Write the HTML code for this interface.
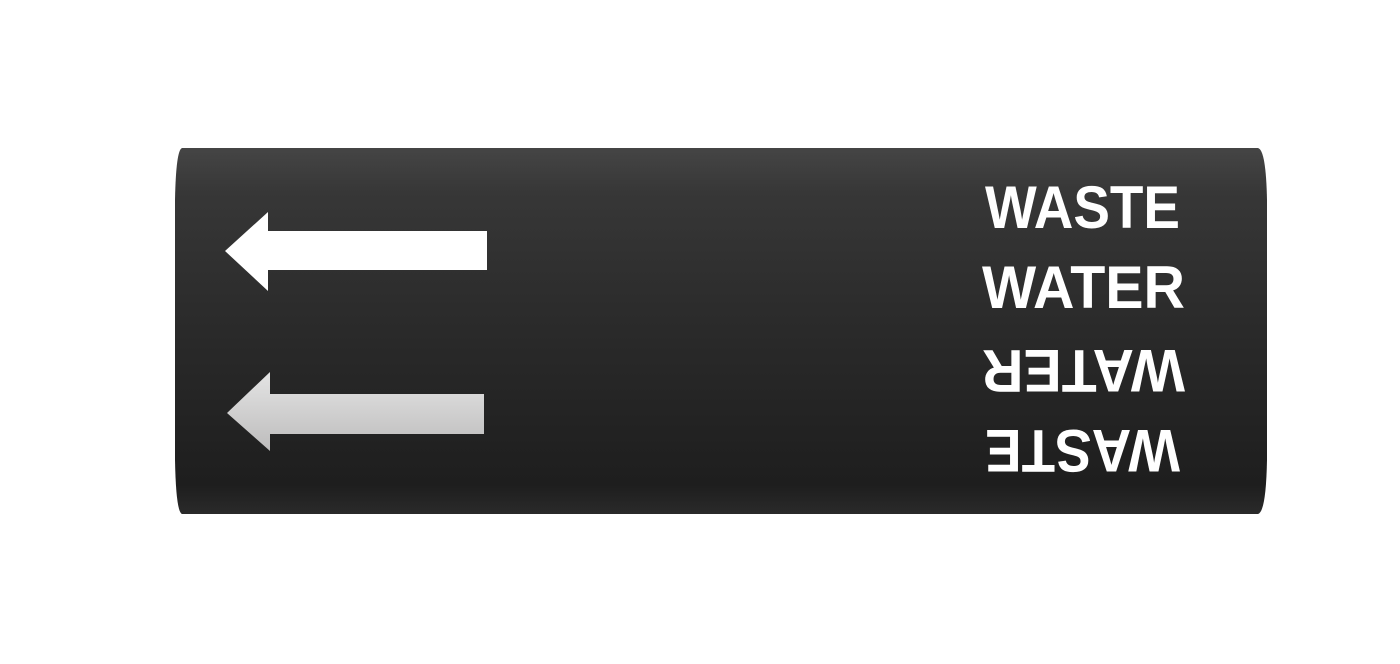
<!DOCTYPE html>
<html><head><meta charset="utf-8"><style>
html,body{margin:0;padding:0;background:#fff;width:1400px;height:664px;overflow:hidden}
svg{display:block}
text{font-family:"Liberation Sans",sans-serif;font-weight:bold;fill:#fff}
</style></head><body>
<svg width="1400" height="664" viewBox="0 0 1400 664">
<defs>
<linearGradient id="g" x1="0" y1="0" x2="0" y2="1">
<stop offset="0" stop-color="#454545"/>
<stop offset="0.12" stop-color="#373737"/>
<stop offset="0.5" stop-color="#2a2a2a"/>
<stop offset="0.92" stop-color="#1e1e1e"/>
<stop offset="1" stop-color="#2a2a2a"/>
</linearGradient>
<linearGradient id="a2" x1="0" y1="0" x2="0" y2="1">
<stop offset="0" stop-color="#e4e4e4"/>
<stop offset="1" stop-color="#bdbcbc"/>
</linearGradient>
</defs>
<path d="M182 148 L1258 148 Q1266 150 1267 200 L1267 460 Q1266 512 1258 514 L182 514 Q176 512 175 460 L175 200 Q176 150 182 148 Z" fill="url(#g)"/>
<polygon points="225,251 268,212 268,231 487,231 487,270 268,270 268,291" fill="#fff"/>
<polygon points="227,413 270,372 270,394 484,394 484,434 270,434 270,451" fill="url(#a2)"/>
<text x="985" y="228" font-size="60" textLength="195" lengthAdjust="spacingAndGlyphs">WASTE</text>
<text x="982" y="308" font-size="60" textLength="203" lengthAdjust="spacingAndGlyphs">WATER</text>
<g transform="rotate(180 1083.5 371)">
<text x="982" y="392" font-size="60" textLength="203" lengthAdjust="spacingAndGlyphs">WATER</text>
</g>
<g transform="rotate(180 1083.5 451)">
<text x="987" y="472" font-size="60" textLength="195" lengthAdjust="spacingAndGlyphs">WASTE</text>
</g>
</svg>
</body></html>
